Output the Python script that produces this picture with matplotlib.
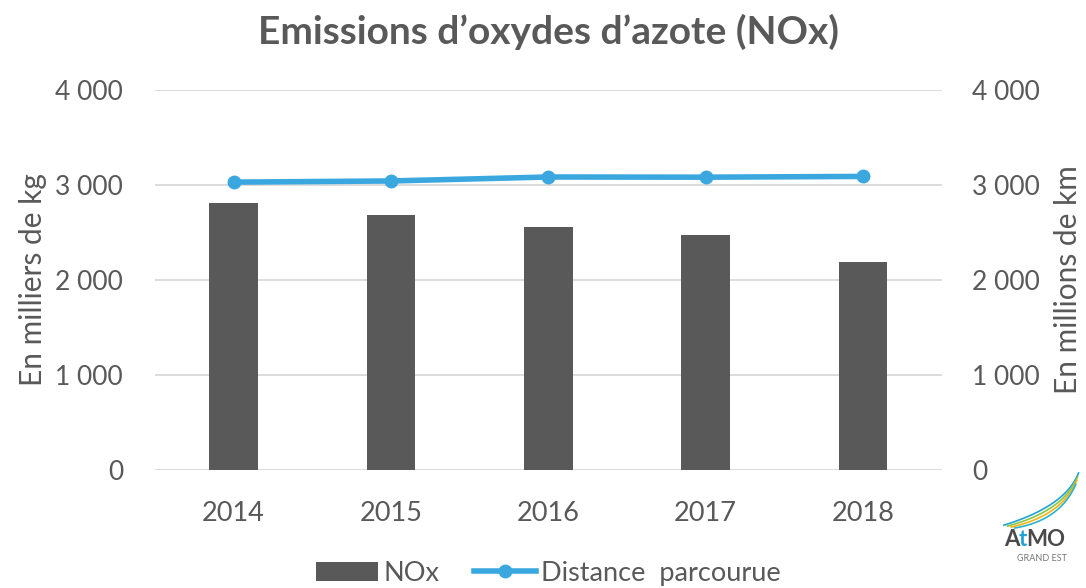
import numpy as np
import matplotlib
matplotlib.use("Agg")
import matplotlib.pyplot as plt
from matplotlib.lines import Line2D
from matplotlib.patches import Patch

plt.rcParams['font.family'] = ['Lato', 'DejaVu Sans']

years = ['2014', '2015', '2016', '2017', '2018']
nox = [2810, 2685, 2560, 2470, 2190]
distance = [3030, 3042, 3084, 3082, 3090]
yticks = [0, 1000, 2000, 3000, 4000]
ytick_labels = ['0', '1 000', '2 000', '3 000', '4 000']

grey_txt = '#595959'
bar_col = '#595959'
line_col = '#3aa8de'

fig = plt.figure(figsize=(10.86, 5.88), dpi=100)
ax = fig.add_axes([0.1427, 0.2007, 0.7243, 0.6463])
x = np.arange(len(years))

ax.bar(x, nox, width=0.31, color=bar_col, zorder=2)
ax.set_xlim(-0.5, 4.5)
ax.set_ylim(0, 4000)
ax.set_yticks(yticks)
ax.set_yticklabels(ytick_labels)
ax.set_xticks(x)
ax.set_xticklabels(years)
ax.yaxis.grid(True, color='#d9d9d9', linewidth=1.3, zorder=0)
ax.set_axisbelow(True)
for s in ax.spines.values():
    s.set_visible(False)
ax.tick_params(axis='both', length=0, colors=grey_txt, labelsize=19)
ax.tick_params(axis='x', pad=22, labelsize=19.5)
ax.tick_params(axis='y', pad=23)
ax.set_ylabel('En milliers de kg', fontsize=21.5, color=grey_txt, labelpad=6)

ax2 = ax.twinx()
ax2.plot(x, distance, color=line_col, linewidth=4, marker='o', markersize=9, zorder=3)
ax2.set_ylim(0, 4000)
ax2.set_yticks(yticks)
ax2.set_yticklabels(ytick_labels)
for s in ax2.spines.values():
    s.set_visible(False)
ax2.tick_params(axis='y', length=0, colors=grey_txt, labelsize=19, pad=22)
ax2.set_ylabel('En millions de km', fontsize=21.5, color=grey_txt, labelpad=10)

fig.text(0.505, 0.945, 'Emissions d\u2019oxydes d\u2019azote (NOx)', ha='center', va='center',
         fontsize=28, fontweight='bold', color=grey_txt)

handles = [Patch(facecolor=bar_col, edgecolor='none'),
           Line2D([0], [0], color=line_col, linewidth=4, marker='o', markersize=9)]
fig.legend(handles, ['NOx', 'Distance  parcourue'], loc='center', bbox_to_anchor=(0.505, 0.025),
           ncol=2, frameon=False, fontsize=19.5, labelcolor=grey_txt, handlelength=2.3,
           handletextpad=0.2, columnspacing=1.25, borderpad=0)

# logo
lax = fig.add_axes([0.916, 0.039, 0.0838, 0.1616])
lax.set_xlim(0, 1)
lax.set_ylim(0, 1)
lax.axis('off')
t = np.linspace(0, 1, 60)
for i, c in enumerate(['#1fa3d6', '#8cc63f', '#f5b21b', '#2bb3c9']):
    p0 = np.array([0.10 + 0.04 * i, 0.42 - 0.01 * i])
    p1 = np.array([0.78 - 0.02 * i, 0.62 - 0.05 * i])
    p2 = np.array([0.92 - 0.01 * i, 0.97 - 0.04 * i])
    pts = np.outer((1 - t) ** 2, p0) + np.outer(2 * (1 - t) * t, p1) + np.outer(t ** 2, p2)
    lax.plot(pts[:, 0], pts[:, 1], color=c, linewidth=1.2)
fig.canvas.draw()
xpos = 0.10
for part, col in [('A', '#4a4a4a'), ('t', '#1fa3d6'), ('MO', '#4a4a4a')]:
    tx = lax.text(xpos, 0.27, part, color=col, fontsize=16, fontweight='bold', ha='left', va='center')
    bb = tx.get_window_extent(fig.canvas.get_renderer()).transformed(lax.transAxes.inverted())
    xpos = bb.x1 - 0.01
lax.text(0.52, 0.07, 'GRAND EST', color='#777777', fontsize=6.5, ha='center', va='center')

fig.savefig('out.png', dpi=100)
